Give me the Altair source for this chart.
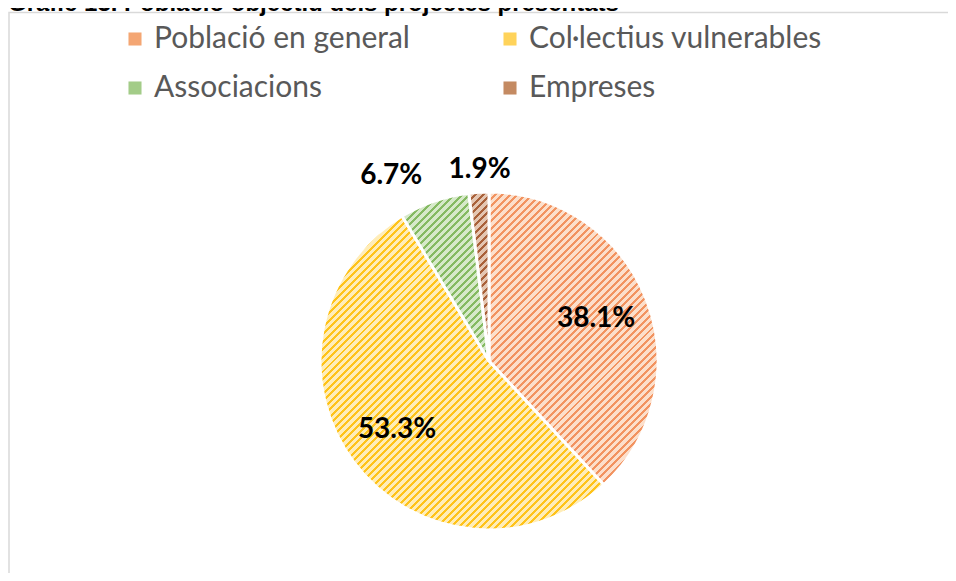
import math
import altair as alt
import pandas as pd

# ---- data ----
categories = ["Població en general", "Col·lectius vulnerables", "Associacions", "Empreses"]
values = [38.1, 53.3, 6.7, 1.9]
title_text = "Gràfic 13. Població objectiu dels projectes presentats"

# ---- style ----
dark_cols = ["#F29360", "#FFC31A", "#85BA62", "#A9613A"]
light_cols = ["#FCDFCB", "#FFEDB8", "#D6E9C9", "#E4C6B2"]
mid_cols = ["#F4A673", "#FFD35A", "#A3CC88", "#C48A62"]
CX, CY, R = 481, 353, 169

df = pd.DataFrame({"cat": categories, "value": values, "order": list(range(len(values)))})


def slice_bbox(a0, a1):
    pts = [(0.0, 0.0)]
    for a in [a0, a1] + [c for c in (0, 90, 180, 270, 360) if a0 < c < a1]:
        r = math.radians(a)
        pts.append((R * math.sin(r), -R * math.cos(r)))
    xs = [p[0] for p in pts]
    ys = [p[1] for p in pts]
    return max(xs) - min(xs), max(ys) - min(ys)


def hatch(i, a0, a1, period=7.5, frac=0.4):
    w, h = slice_bbox(a0, a1)
    w, h = max(w, 1.0), max(h, 1.0)
    k = (w + h) / (w * w + h * h)
    n = max(2, int(round((w + h) / period)))
    stops = []
    for j in range(n):
        t0 = j / n
        t1 = (j + frac) / n
        t2 = (j + 1) / n
        stops += [
            {"offset": t0, "color": dark_cols[i]},
            {"offset": t1, "color": dark_cols[i]},
            {"offset": t1, "color": light_cols[i]},
            {"offset": t2, "color": light_cols[i]},
        ]
    return {"gradient": "linear", "x1": 0, "y1": 0, "x2": k * w, "y2": k * h, "stops": stops}


total = sum(values)
grads = []
acc = 0.0
for i, v in enumerate(values):
    a0 = acc / total * 360
    acc += v
    a1 = acc / total * 360
    grads.append(hatch(i, a0, a1))

theta_scale = alt.Scale(domain=[0, total])

base = (
    alt.Chart(df)
    .transform_window(cum="sum(value)", sort=[alt.SortField("order")])
    .transform_calculate(
        start="datum.cum - datum.value",
        mid="datum.cum - datum.value / 2",
        label="format(datum.value, '.1f') + '%'",
    )
)

legend_layer = base.mark_arc(outerRadius=R).encode(
    theta=alt.Theta("start:Q", scale=theta_scale),
    theta2="cum:Q",
    color=alt.Color(
        "cat:N",
        scale=alt.Scale(domain=categories, range=mid_cols),
        legend=alt.Legend(
            title=None,
            orient="none",
            direction="horizontal",
            legendX=112,
            legendY=16,
            columns=2,
            columnPadding=85,
            rowPadding=19,
            symbolType="square",
            symbolSize=170,
            symbolStrokeWidth=0,
            labelFont="Lato",
            labelFontSize=30,
            labelColor="#595959",
            labelOffset=4,
            labelLimit=500,
            padding=0,
        ),
    ),
    x=alt.value(CX),
    y=alt.value(CY),
)

fill_enc = (
    alt.when(alt.datum.cat == categories[0]).then(alt.value(grads[0]))
    .when(alt.datum.cat == categories[1]).then(alt.value(grads[1]))
    .when(alt.datum.cat == categories[2]).then(alt.value(grads[2]))
    .otherwise(alt.value(grads[3]))
)

hatch_layer = base.mark_arc(outerRadius=R, stroke="white", strokeWidth=3).encode(
    theta=alt.Theta("start:Q", scale=theta_scale),
    theta2="cum:Q",
    fill=fill_enc,
    x=alt.value(CX),
    y=alt.value(CY),
)

label_style = dict(font="Lato", fontSize=28, fontWeight="bold", color="black")

inner_labels = base.transform_filter("datum.value > 10").mark_text(radius=115, **label_style).encode(
    theta=alt.Theta("mid:Q", scale=theta_scale), text="label:N", x=alt.value(CX), y=alt.value(CY)
)
assoc_label = base.transform_filter(alt.datum.cat == categories[2]).mark_text(
    radius=200, dx=-33, dy=4, **label_style
).encode(theta=alt.Theta("mid:Q", scale=theta_scale), text="label:N", x=alt.value(CX), y=alt.value(CY))
emp_label = base.transform_filter(alt.datum.cat == categories[3]).mark_text(
    radius=191, dx=2, **label_style
).encode(theta=alt.Theta("mid:Q", scale=theta_scale), text="label:N", x=alt.value(CX), y=alt.value(CY))

frame = alt.Chart(pd.DataFrame({"t": [title_text]})).mark_rect(
    fill=None, stroke="#D9D9D9", strokeWidth=1.5
).encode(x=alt.value(1), x2=alt.value(1000), y=alt.value(4.5), y2=alt.value(700))

title = alt.Chart(pd.DataFrame({"t": [title_text]})).mark_text(
    font="Liberation Sans", fontSize=24, fontWeight="bold", color="black", align="left", baseline="alphabetic"
).encode(text="t:N", x=alt.value(0), y=alt.value(3))

chart = (
    alt.layer(frame, legend_layer, hatch_layer, inner_labels, assoc_label, emp_label, title)
    .properties(width=940, height=565, autosize=alt.AutoSizeParams(type="none"), padding=0)
    .configure_view(stroke=None)
)

chart.save("out.html", embed_options={"renderer": "svg", "actions": False})
